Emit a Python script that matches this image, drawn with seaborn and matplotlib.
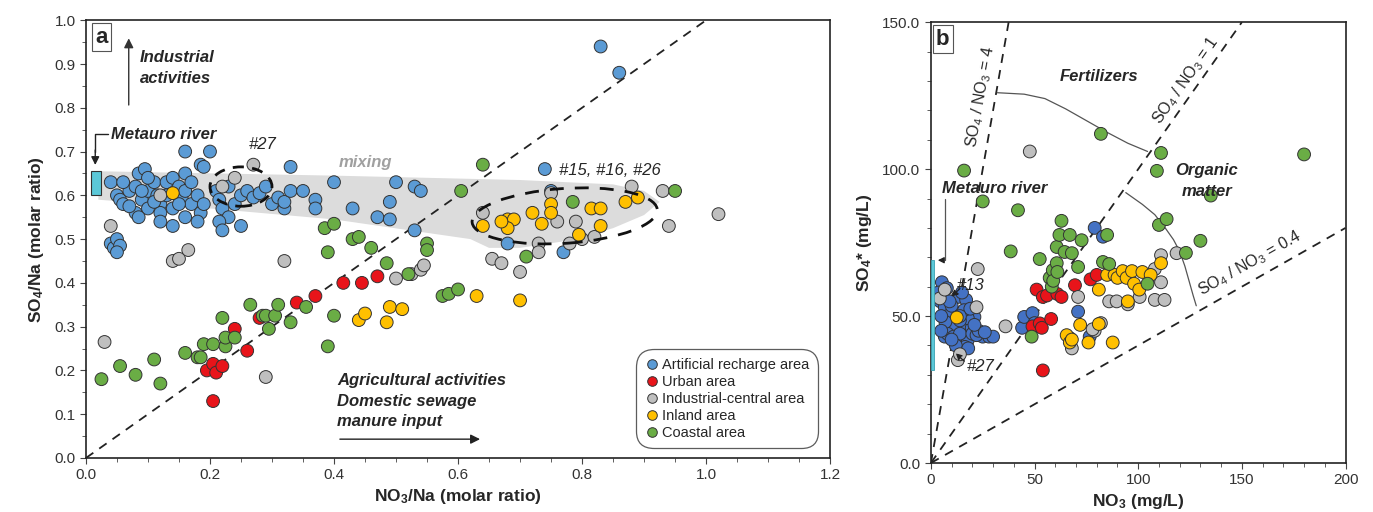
import numpy as np
import pandas as pd
import matplotlib
matplotlib.use("Agg")
import matplotlib.pyplot as plt
from matplotlib.patches import Ellipse, Rectangle, Polygon
from matplotlib.ticker import MultipleLocator, FormatStrFormatter
import seaborn as sns

sns.set_style("white")
plt.rcParams['font.family'] = ['Liberation Sans', 'DejaVu Sans']
plt.rcParams['mathtext.default'] = 'regular'

AREAS = ["Artificial recharge area", "Urban area", "Industrial-central area",
         "Inland area", "Coastal area"]

# ---- panel a : NO3/Na vs SO4/Na (molar ratio) ----
blue_a = [(0.04,0.63),(0.05,0.60),(0.055,0.59),(0.06,0.58),(0.07,0.61),(0.08,0.62),(0.085,0.65),
          (0.09,0.59),(0.095,0.66),(0.10,0.57),(0.10,0.61),(0.11,0.63),(0.115,0.60),(0.12,0.58),
          (0.12,0.56),(0.13,0.63),(0.13,0.60),(0.14,0.57),(0.14,0.64),(0.15,0.62),(0.155,0.59),
          (0.16,0.65),(0.16,0.61),(0.17,0.58),(0.17,0.63),(0.18,0.60),(0.185,0.56),(0.19,0.58),
          (0.08,0.56),(0.085,0.55),(0.12,0.54),(0.14,0.53),(0.16,0.55),(0.18,0.54),(0.06,0.63),
          (0.10,0.64),(0.16,0.70),(0.20,0.70),(0.185,0.67),(0.19,0.665),(0.09,0.61),(0.11,0.585),
          (0.07,0.575),(0.15,0.58),(0.21,0.61),(0.215,0.59),(0.23,0.62),(0.22,0.57),(0.24,0.58),
          (0.25,0.60),(0.23,0.55),(0.215,0.54),(0.26,0.61),(0.27,0.595),(0.22,0.52),(0.25,0.53),
          (0.28,0.605),(0.29,0.62),(0.30,0.58),(0.31,0.595),(0.32,0.57),(0.32,0.585),(0.33,0.61),
          (0.35,0.61),(0.37,0.59),(0.37,0.57),(0.33,0.665),(0.40,0.63),(0.43,0.57),(0.47,0.55),
          (0.49,0.545),(0.49,0.585),(0.50,0.63),(0.53,0.62),(0.54,0.61),(0.53,0.52),(0.68,0.49),
          (0.74,0.66),(0.75,0.61),(0.77,0.47),(0.83,0.94),(0.86,0.88),(0.04,0.49),(0.045,0.48),
          (0.05,0.50),(0.055,0.485),(0.05,0.47)]
red_a = [(0.195,0.20),(0.205,0.215),(0.21,0.195),(0.22,0.21),(0.205,0.13),(0.24,0.295),
         (0.26,0.245),(0.28,0.32),(0.34,0.355),(0.37,0.37),(0.415,0.40),(0.445,0.40),(0.47,0.415)]
gray_a = [(0.03,0.265),(0.04,0.53),(0.12,0.60),(0.14,0.45),(0.15,0.455),(0.165,0.475),(0.22,0.62),
          (0.24,0.64),(0.27,0.67),(0.29,0.185),(0.32,0.45),(0.50,0.41),(0.525,0.42),(0.54,0.43),
          (0.545,0.44),(0.64,0.56),(0.655,0.455),(0.67,0.445),(0.70,0.425),(0.73,0.49),(0.73,0.47),
          (0.75,0.605),(0.76,0.54),(0.78,0.49),(0.79,0.54),(0.80,0.50),(0.82,0.505),(0.88,0.62),
          (0.93,0.61),(0.94,0.53),(1.02,0.557)]
yellow_a = [(0.14,0.605),(0.44,0.315),(0.45,0.33),(0.485,0.31),(0.49,0.345),(0.51,0.34),(0.63,0.37),
            (0.64,0.53),(0.68,0.545),(0.69,0.545),(0.68,0.525),(0.67,0.54),(0.72,0.56),(0.735,0.535),
            (0.75,0.58),(0.75,0.56),(0.70,0.36),(0.795,0.51),(0.815,0.57),(0.83,0.57),(0.83,0.53),
            (0.87,0.585),(0.89,0.595)]
green_a = [(0.025,0.18),(0.055,0.21),(0.08,0.19),(0.11,0.225),(0.12,0.17),(0.16,0.24),(0.18,0.23),
           (0.185,0.23),(0.19,0.26),(0.205,0.26),(0.22,0.32),(0.225,0.255),(0.225,0.275),(0.24,0.275),
           (0.265,0.35),(0.285,0.325),(0.29,0.325),(0.295,0.295),(0.305,0.325),(0.31,0.35),(0.33,0.31),
           (0.355,0.345),(0.385,0.525),(0.39,0.47),(0.39,0.255),(0.40,0.535),(0.40,0.325),(0.43,0.50),
           (0.44,0.505),(0.46,0.48),(0.485,0.445),(0.52,0.42),(0.55,0.49),(0.55,0.475),(0.575,0.37),
           (0.585,0.375),(0.60,0.385),(0.605,0.61),(0.64,0.67),(0.71,0.46),(0.785,0.585),(0.95,0.61)]

# ---- panel b : NO3 vs SO4* (mg/L) ----
blue_b = [(5.3,61.5),(7.7,59.5),(6,57),(4.5,55),(13,56.5),(17,55.5),(6.7,53),(12.5,51),(21,49.7),
          (9,46.3),(15,46),(19.7,46),(6.7,43),(13,41.8),(17.8,41.8),(25,43),(28,43),(30,43),
          (16.4,39.5),(10.6,49.7),(17.8,49.3),(8,50),(11,47),(14,48.5),(16,52),(19,52.5),(10,53.5),
          (8,44),(11,43),(14,44),(20,44),(22,43.5),(12,40),(18,39),(7,48),(23,45),(9,55),(15,58),
          (10,42),(5,45),(5,50),(21,47),(26,44.5),(3.5,58),(14,50),(44,46),(45,49.7),(49,51),
          (50,47.6),(71,51.5),(76.6,43),(79,80),(83,77)]
red_b = [(49,46.5),(51,59),(52.5,47.5),(53.5,46),(54,56.5),(54,31.5),(56,57),(58,49),(61,57.5),
         (63,56.5),(69.5,60.5),(77,62.5),(80,64)]
gray_b = [(4.3,56),(6.7,59),(13,35),(14,37),(22,53),(22.6,66),(36,46.5),(47.7,106),(67,42.5),(68,39),
          (71,56.5),(79,45),(82,47.6),(86,55),(89.6,55),(95,54),(100.7,56.5),(108,55.5),(108,66),
          (111,61.5),(112.7,55.5),(111,70.7),(118.5,71.4),(78,45.5)]
yellow_b = [(12.5,49.5),(65.5,43.5),(67,41),(72,47),(76,41),(81,59),(81,47.3),(85,64),(88.6,64),
            (90,63),(92.5,65.3),(94.4,63),(95,55),(97,65.3),(98,61),(100.5,59),(102,65),(106,64),
            (111,68),(87.7,41),(68,42)]
green_b = [(16,99.5),(25,89),(38.5,72),(42,86),(48.6,43),(52.5,69.4),(57.3,63),(58.3,60),(58.8,65.6),
           (60.7,73.5),(60.7,68),(62,77.6),(63,82.4),(64.5,71.8),(67,77.6),(68,71.4),(71,66.7),
           (72.7,75.8),(82,112),(83,68.4),(86,67.7),(85,77.6),(104.5,61),(109,99.4),(110,81),
           (111,105.5),(113.7,83),(123,71.5),(130,75.6),(135,91),(180,105),(59,62),(61,65)]


def frame(groups):
    rows = []
    for area, pts in zip(AREAS, groups):
        for x, y in pts:
            rows.append((x, y, area))
    return pd.DataFrame(rows, columns=["x", "y", "area"])


df_a = frame([blue_a, red_a, gray_a, yellow_a, green_a])
df_b = frame([blue_b, red_b, gray_b, yellow_b, green_b])

pal_a = dict(zip(AREAS, ["#5b9bd5", "#e8141a", "#bfbfbf", "#ffc000", "#6aad45"]))
pal_b = dict(zip(AREAS, ["#4472c4", "#e8141a", "#bfbfbf", "#ffc000", "#6aad45"]))

fig = plt.figure(figsize=(13.73, 5.12), dpi=100)
ax = fig.add_axes([0.0626, 0.1055, 0.542, 0.855])
bx = fig.add_axes([0.678, 0.0957, 0.302, 0.861])

bi = dict(fontweight="bold", fontstyle="italic", fontsize=12)

# ---------------- panel a ----------------
mix = Polygon([(0.02, 0.655), (0.4, 0.645), (0.7, 0.635), (0.85, 0.625), (0.9, 0.61), (0.925, 0.585),
               (0.9, 0.555), (0.85, 0.525), (0.78, 0.497), (0.7, 0.48), (0.65, 0.48), (0.62, 0.5),
               (0.4, 0.545), (0.2, 0.57), (0.02, 0.59)], closed=True, fc="#dcdcdc", ec="none", zorder=0)
ax.add_patch(mix)
ax.plot([0, 1.0], [0, 1.0], ls=(0, (5, 4)), color="#222222", lw=1.3, zorder=1)

sns.scatterplot(data=df_a, x="x", y="y", hue="area", palette=pal_a, hue_order=AREAS,
                s=85, edgecolor="#333333", linewidth=0.7, ax=ax, zorder=3)

ax.add_patch(Ellipse((0.25, 0.62), 0.1, 0.09, fill=False, ls=(0, (4, 3)), lw=2, ec="#111111", zorder=4))
ax.add_patch(Ellipse((0.772, 0.553), 0.30, 0.125, angle=6, fill=False, ls=(0, (5, 4)), lw=2,
                     ec="#111111", zorder=4))
ax.add_patch(Rectangle((0.008, 0.60), 0.016, 0.055, fc="#5bc8d8", ec="#333333", lw=0.8, zorder=4))

ax.text(0.45, 0.675, "mixing", color="#a0a0a0", ha="center", va="center", **bi)
ax.text(0.285, 0.715, "#27", fontsize=12, fontstyle="italic", ha="center", va="center")
ax.text(0.845, 0.657, "#15, #16, #26", fontsize=12, fontstyle="italic", ha="center", va="center")
ax.annotate("", xy=(0.069, 0.965), xytext=(0.069, 0.80),
            arrowprops=dict(arrowstyle="-|>", color="#333333", lw=1.0, mutation_scale=14))
ax.text(0.087, 0.89, "Industrial\nactivities", ha="left", va="center", linespacing=1.5, **bi)
ax.text(0.04, 0.74, "Metauro river", ha="left", va="center", **bi)
ax.plot([0.035, 0.015, 0.015], [0.74, 0.74, 0.70], color="#222222", lw=1.0)
ax.annotate("", xy=(0.015, 0.663), xytext=(0.015, 0.71),
            arrowprops=dict(arrowstyle="-|>", color="#222222", lw=1.0, mutation_scale=12))
ax.text(0.405, 0.13, "Agricultural activities\nDomestic sewage\nmanure input", ha="left",
        va="center", linespacing=1.45, **bi)
ax.annotate("", xy=(0.64, 0.043), xytext=(0.405, 0.043),
            arrowprops=dict(arrowstyle="-|>", color="#222222", lw=1.0, mutation_scale=14))
ax.text(0.012, 0.985, "a", transform=ax.transAxes, fontsize=16, fontweight="bold", ha="left", va="top",
        bbox=dict(boxstyle="square,pad=0.15", fc="white", ec="#555555", lw=0.8))

ax.set_xlim(0, 1.2)
ax.set_ylim(0, 1.0)
ax.xaxis.set_major_locator(MultipleLocator(0.2))
ax.xaxis.set_minor_locator(MultipleLocator(0.05))
ax.yaxis.set_major_locator(MultipleLocator(0.1))
ax.yaxis.set_minor_locator(MultipleLocator(0.05))
ax.xaxis.set_major_formatter(FormatStrFormatter("%.1f"))
ax.yaxis.set_major_formatter(FormatStrFormatter("%.1f"))
ax.set_xlabel("NO$_3$/Na (molar ratio)", fontsize=12.5, fontweight="bold", labelpad=3)
ax.set_ylabel("SO$_4$/Na (molar ratio)", fontsize=12.5, fontweight="bold", labelpad=6)

leg = ax.legend(loc="lower right", bbox_to_anchor=(0.99, 0.012), fontsize=10.5, frameon=True,
                fancybox=True, edgecolor="#333333", labelspacing=0.2, handletextpad=0.2,
                handlelength=1.0, borderpad=0.4, markerscale=0.75, title=None)
leg.get_frame().set_linewidth(0.9)
leg.get_frame().set_boxstyle("round,pad=0.2,rounding_size=1.2")

# ---------------- panel b ----------------
xs = np.array([0, 200])
bx.plot([0, 37.5], [0, 150], ls=(0, (5, 4)), color="#222222", lw=1.3, zorder=1)
bx.plot([0, 150], [0, 150], ls=(0, (5, 4)), color="#222222", lw=1.3, zorder=1)
bx.plot(xs, 0.4 * xs, ls=(0, (5, 4)), color="#222222", lw=1.3, zorder=1)

fert_x = [32, 45, 55, 65, 75, 85, 95, 104.5]
fert_y = [126, 125.5, 124, 120.5, 116.5, 112.5, 108.8, 106]
bx.plot(fert_x, fert_y, color="#555555", lw=0.9, zorder=1)
org_x = [94, 102, 108, 113, 117, 120, 122.5, 124.5, 126.5, 128]
org_y = [92, 88, 84.5, 80, 76, 72, 67, 62, 57, 53.5]
bx.plot(org_x, org_y, color="#555555", lw=0.9, zorder=1)

sns.scatterplot(data=df_b, x="x", y="y", hue="area", palette=pal_b, hue_order=AREAS,
                s=85, edgecolor="#333333", linewidth=0.7, ax=bx, zorder=3, legend=False)

bx.add_patch(Rectangle((0.1, 31.5), 1.6, 37.5, fc="#5bc8d8", ec="#3aa0b0", lw=0.6, zorder=4, clip_on=False))
bx.text(24, 124.5, "SO$_4$ / NO$_3$ = 4", rotation=80, fontsize=11.5, ha="center", va="center")
bx.text(123, 130, "SO$_4$ / NO$_3$ = 1", rotation=55, fontsize=11.5, ha="center", va="center")
bx.text(154, 68, "SO$_4$ / NO$_3$ = 0.4", rotation=29.5, fontsize=11.5, ha="center", va="center")
bx.text(81, 131.5, "Fertilizers", ha="center", va="center", **bi)
bx.text(133, 96, "Organic\nmatter", ha="center", va="center", linespacing=1.5, **bi)
bx.text(5.5, 93.5, "Metauro river", ha="left", va="center", **bi)
bx.plot([6.7, 6.7], [90, 69], color="#555555", lw=0.9)
bx.annotate("", xy=(2.0, 69), xytext=(6.9, 69),
            arrowprops=dict(arrowstyle="-|>", color="#222222", lw=0.9, mutation_scale=9))
bx.text(19, 60.5, "#13", fontsize=12, fontstyle="italic", ha="center", va="center")
bx.annotate("", xy=(9, 56), xytext=(15, 60),
            arrowprops=dict(arrowstyle="-|>", color="#222222", lw=0.9, ls="--", mutation_scale=9))
bx.text(24, 33, "#27", fontsize=12, fontstyle="italic", ha="center", va="center")
bx.annotate("", xy=(11, 38), xytext=(17, 34),
            arrowprops=dict(arrowstyle="-|>", color="#222222", lw=0.9, ls="--", mutation_scale=9))
bx.text(0.012, 0.985, "b", transform=bx.transAxes, fontsize=16, fontweight="bold", ha="left", va="top",
        bbox=dict(boxstyle="square,pad=0.15", fc="white", ec="#555555", lw=0.8))

bx.set_xlim(0, 200)
bx.set_ylim(0, 150)
bx.xaxis.set_major_locator(MultipleLocator(50))
bx.xaxis.set_minor_locator(MultipleLocator(10))
bx.yaxis.set_major_locator(MultipleLocator(50))
bx.yaxis.set_minor_locator(MultipleLocator(10))
bx.yaxis.set_major_formatter(FormatStrFormatter("%.1f"))
bx.set_xlabel("NO$_3$ (mg/L)", fontsize=12.5, fontweight="bold", labelpad=3)
bx.set_ylabel("SO$_4$* (mg/L)", fontsize=12.5, fontweight="bold", labelpad=6)

for a in (ax, bx):
    for sp in a.spines.values():
        sp.set_color("#222222")
        sp.set_linewidth(1.2)
    a.tick_params(which="both", direction="out", bottom=True, left=True, top=False, right=False,
                  color="#444444")
    a.tick_params(which="major", length=4, labelsize=11, colors="#444444", labelcolor="#333333")
    a.tick_params(which="minor", length=3)

fig.savefig("out.png", dpi=100)
